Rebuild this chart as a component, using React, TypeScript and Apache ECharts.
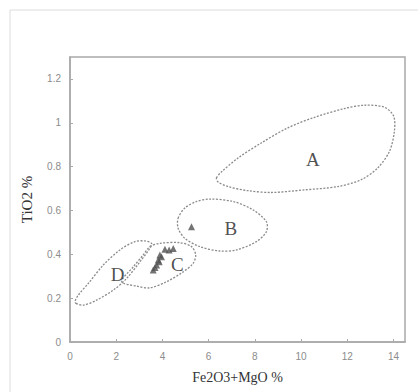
import React, { useEffect, useRef } from "react";
import * as echarts from "echarts";

const xTicks = [0, 2, 4, 6, 8, 10, 12, 14];
const yTicks = [0, 0.2, 0.4, 0.6, 0.8, 1, 1.2];

const fieldA: number[][] = [
  [6.34, 0.748], [6.55, 0.775], [7.27, 0.839], [8.28, 0.908], [9.43, 0.977], [10.59, 1.025],
  [11.88, 1.065], [12.75, 1.08], [13.61, 1.071], [14.01, 1.03], [14.04, 0.961], [13.83, 0.87],
  [13.32, 0.794], [12.6, 0.74], [11.59, 0.709], [10.16, 0.694], [8.72, 0.682], [7.71, 0.69],
  [6.84, 0.709], [6.41, 0.73],
];
const fieldB: number[][] = [
  [4.68, 0.565], [4.97, 0.611], [5.48, 0.641], [6.05, 0.652], [7.06, 0.641], [7.92, 0.603],
  [8.5, 0.549], [8.5, 0.503], [8.07, 0.458], [7.2, 0.42], [6.48, 0.415], [5.62, 0.435],
  [4.97, 0.473], [4.68, 0.519],
];
const fieldC: number[][] = [
  [3.46, 0.435], [3.89, 0.45], [4.75, 0.453], [5.26, 0.435], [5.44, 0.397], [5.33, 0.359],
  [4.9, 0.32], [4.18, 0.275], [3.46, 0.247], [2.88, 0.255], [2.24, 0.275], [2.74, 0.343],
  [3.17, 0.397],
];
const fieldD: number[][] = [
  [0.26, 0.176], [0.58, 0.168], [1.15, 0.191], [1.88, 0.237], [2.45, 0.29], [3.03, 0.366],
  [3.46, 0.428], [3.53, 0.45], [3.24, 0.461], [2.81, 0.458], [2.16, 0.42], [1.44, 0.351],
  [0.79, 0.267], [0.36, 0.214], [0.22, 0.186],
];
const fields = [fieldA, fieldB, fieldC, fieldD];
const fieldLabels: { name: string; value: number[] }[] = [
  { name: "A", value: [10.51, 0.832] },
  { name: "B", value: [6.96, 0.517] },
  { name: "C", value: [4.65, 0.354] },
  { name: "D", value: [2.06, 0.31] },
];
const samples: number[][] = [
  [4.11, 0.423], [4.29, 0.42], [4.47, 0.427], [3.96, 0.389], [3.89, 0.397], [3.86, 0.366],
  [3.82, 0.374], [3.75, 0.351], [3.68, 0.34], [3.6, 0.328], [5.26, 0.526],
];

export default function App() {
  const ref = useRef<HTMLDivElement>(null);
  useEffect(() => {
    const chart = echarts.init(ref.current!, null, { renderer: "svg" });
    chart.setOption({
      animation: false,
      backgroundColor: "#fff",
      graphic: [
        {
          type: "rect",
          shape: { x: 10, y: 10, width: 430, height: 410 },
          style: { fill: "none", stroke: "#dcdcdc", lineWidth: 1 },
          silent: true,
        },
      ],
      grid: {
        left: 70, top: 57, right: 13, bottom: 50,
        show: true, borderColor: "#a9a9a9", borderWidth: 1.5, backgroundColor: "transparent",
      },
      xAxis: {
        type: "value",
        min: 0,
        max: 14.5,
        interval: 2,
        name: "Fe2O3+MgO %",
        nameLocation: "middle",
        nameGap: 28,
        nameTextStyle: { fontFamily: "Liberation Serif", fontSize: 14, color: "#333" },
        splitLine: { show: false },
        axisLine: { lineStyle: { color: "#a9a9a9", width: 1.5 } },
        axisTick: { inside: true, length: 3, lineStyle: { color: "#a9a9a9" } },
        axisLabel: {
          showMaxLabel: false,
          color: "#8c8c8c",
          fontSize: 10,
          fontFamily: "Liberation Sans",
          margin: 9,
          formatter: (v: number) => (xTicks.includes(v) ? String(v) : ""),
        },
      },
      yAxis: {
        type: "value",
        min: 0,
        max: 1.3,
        interval: 0.2,
        name: "TiO2 %",
        nameLocation: "middle",
        nameGap: 36,
        nameTextStyle: { fontFamily: "Liberation Serif", fontSize: 15, color: "#333" },
        splitLine: { show: false },
        axisLine: { show: true, lineStyle: { color: "#a9a9a9", width: 1.5 } },
        axisTick: { show: true, inside: true, length: 3, lineStyle: { color: "#a9a9a9" } },
        axisLabel: {
          showMaxLabel: false,
          color: "#8c8c8c",
          fontSize: 10,
          fontFamily: "Liberation Sans",
          margin: 9,
          formatter: (v: number) => {
            const r = Math.round(v * 10) / 10;
            return yTicks.some((t) => Math.abs(t - r) < 1e-9) ? String(r) : "";
          },
        },
      },
      series: [
        {
          type: "custom",
          silent: true,
          data: fields.map((_, i) => i),
          renderItem: (params: any, api: any) => {
            const idx = api.value(0);
            const pts = fields[idx].map((p) => api.coord(p));
            return {
              type: "polygon",
              shape: { points: pts, smooth: 0.3 },
              style: { fill: "none", stroke: "#8a8a8a", lineWidth: 1.3, lineDash: [2, 1.5] },
            };
          },
        },
        {
          type: "scatter",
          data: fieldLabels,
          symbolSize: 0,
          silent: true,
          label: {
            show: true,
            position: "inside",
            formatter: "{b}",
            fontFamily: "Liberation Serif",
            fontSize: 19,
            color: "#222",
          },
        },
        {
          type: "scatter",
          data: samples,
          symbol: "triangle",
          symbolSize: 7,
          itemStyle: { color: "#505050" },
        },
      ],
    });
    return () => chart.dispose();
  }, []);
  return (
    <div
      ref={ref}
      style={{ position: "fixed", left: 0, top: 0, width: 418, height: 392, background: "#fff" }}
    />
  );
}
